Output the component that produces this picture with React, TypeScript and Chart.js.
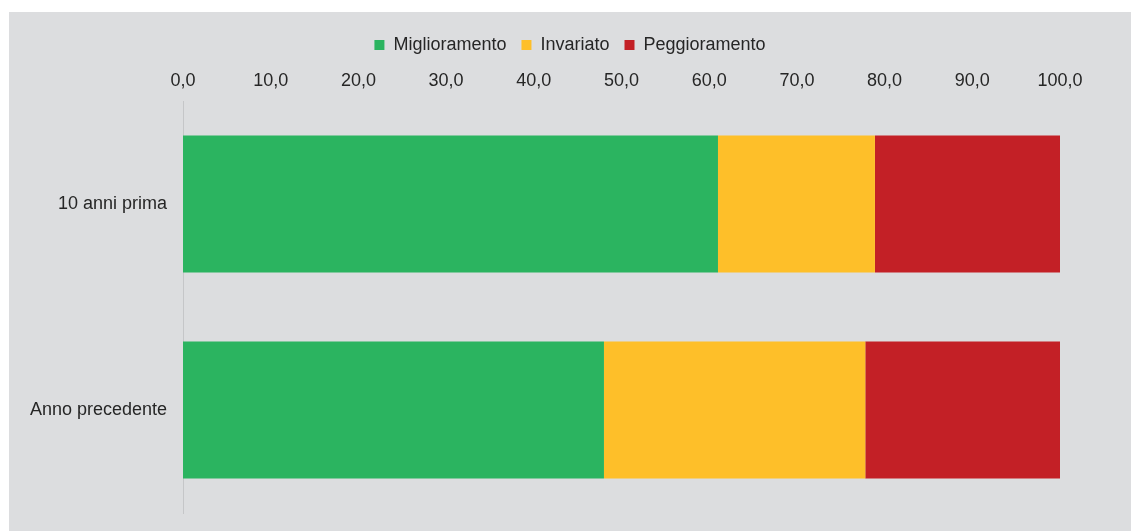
import React, { useEffect, useRef } from "react";
import { Chart, registerables } from "chart.js";

Chart.register(...registerables);

const categories = ["10 anni prima", "Anno precedente"];
const seriesNames = ["Miglioramento", "Invariato", "Peggioramento"];
const miglioramento = [61.0, 48.0];
const invariato = [17.9, 29.8];
const peggioramento = [21.1, 22.2];
const seriesColors = ["#2bb460", "#febf29", "#c32026"];

const FONT = "'Liberation Sans', Arial, sans-serif";
const TEXT = "#262626";

export default function App() {
  const ref = useRef<HTMLCanvasElement | null>(null);

  useEffect(() => {
    if (!ref.current) return;
    const values = [miglioramento, invariato, peggioramento];
    const chart = new Chart(ref.current, {
      type: "bar",
      data: {
        labels: categories,
        datasets: seriesNames.map((name, i) => ({
          label: name,
          data: values[i],
          backgroundColor: seriesColors[i],
          borderWidth: 0,
          barPercentage: 0.665,
          categoryPercentage: 1,
        })),
      },
      options: {
        indexAxis: "y",
        animation: false,
        responsive: false,
        maintainAspectRatio: false,
        layout: { padding: { top: 9, right: 0, bottom: 18, left: 0 } },
        plugins: {
          tooltip: { enabled: false },
          legend: {
            position: "top",
            labels: {
              boxWidth: 10,
              boxHeight: 10,
              padding: 15,
              color: TEXT,
              font: { family: FONT, size: 18 },
            },
          },
        },
        scales: {
          x: {
            position: "top",
            stacked: true,
            min: 0,
            max: 100,
            grid: { display: false, drawTicks: false },
            border: { display: false },
            ticks: {
              stepSize: 10,
              padding: 9,
              color: TEXT,
              font: { family: FONT, size: 18 },
              callback: (v: any) => Number(v).toFixed(1).replace(".", ","),
            },
            afterFit: (scale: any) => {
              scale.height = 37;
            },
          },
          y: {
            stacked: true,
            grid: { display: false, drawTicks: false },
            border: { display: true, color: "#c5c6c8", width: 1 },
            ticks: {
              padding: 16,
              color: TEXT,
              font: { family: FONT, size: 18 },
            },
            afterFit: (scale: any) => {
              scale.width = 174;
              scale.paddingTop = 0;
              scale.paddingBottom = 0;
            },
          },
          yRight: {
            type: "category",
            position: "right",
            grid: { display: false, drawTicks: false },
            border: { display: false },
            ticks: { display: false },
            afterFit: (scale: any) => {
              scale.width = 71;
              scale.paddingTop = 0;
              scale.paddingBottom = 0;
            },
          },
        },
      },
    });
    return () => chart.destroy();
  }, []);

  return (
    <div
      style={{
        position: "absolute",
        left: 9,
        top: 12,
        width: 1122,
        height: 519,
        background: "#dcdddf",
      }}
    >
      <canvas ref={ref} width={1122} height={519} style={{ display: "block" }} />
    </div>
  );
}
